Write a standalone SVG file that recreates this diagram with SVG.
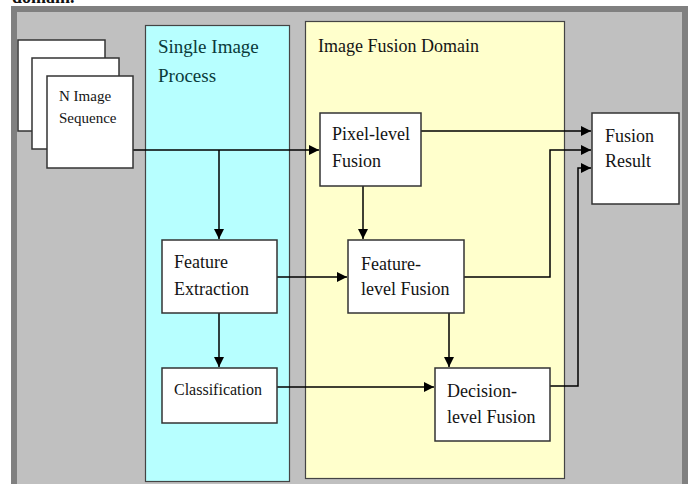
<svg xmlns="http://www.w3.org/2000/svg" width="691" height="484" viewBox="0 0 691 484">
<defs>
<marker id="ah" viewBox="0 0 10 10" refX="10" refY="5" markerWidth="10" markerHeight="10" markerUnits="userSpaceOnUse" orient="auto">
<path d="M0,0 L10,5 L0,10 z" fill="#000"/>
</marker>
<style>
.box{fill:#fff;stroke:#333;stroke-width:1.5}
.t{font-family:"Liberation Serif","Times New Roman",serif;font-size:18px;fill:#141414}
.s{font-size:15px}
.c{fill:none;stroke:#000;stroke-width:1.5}
.a{marker-end:url(#ah)}
</style>
</defs>
<rect x="0" y="0" width="691" height="484" fill="#fff"/>
<text x="12" y="3" font-family="Liberation Serif,serif" font-weight="bold" font-size="18" fill="#111">domain.</text>
<rect x="11" y="6" width="677" height="478" fill="#808080"/>
<rect x="17" y="12" width="665" height="472" fill="#c0c0c0"/>
<g id="single-image-process">
<rect x="145.5" y="25.5" width="144" height="456" fill="#b7ffff" stroke="#444" stroke-width="1.2"/>
<text class="t" x="158" y="53" style="font-size:19px;fill:#0a3a3a">Single Image</text>
<text class="t" x="158" y="82" style="font-size:19px;fill:#0a3a3a">Process</text>
</g>
<g id="image-fusion-domain">
<rect x="305.5" y="21.5" width="259" height="457" fill="#ffffcc" stroke="#444" stroke-width="1.2"/>
<text class="t" x="318" y="52">Image Fusion Domain</text>
</g>
<g id="connectors">
<path class="c a" d="M133,150 H319"/>
<path class="c a" d="M219,150 V239"/>
<path class="c a" d="M219,313 V367"/>
<path class="c a" d="M363,186 V239"/>
<path class="c a" d="M277,277 H347"/>
<path class="c a" d="M449,313 V367"/>
<path class="c a" d="M277,387 H434"/>
<path class="c a" d="M421,131 H591"/>
<path class="c a" d="M464,277 H550 V150 H591"/>
<path class="c a" d="M550,386 H578 V168 H591"/>
</g>
<g id="n-image-sequence">
<rect class="box" x="18" y="40" width="87" height="91"/>
<rect class="box" x="32" y="58" width="87" height="91"/>
<rect class="box" x="47" y="76" width="86" height="92"/>
<text class="t s" x="59" y="101">N Image</text>
<text class="t s" x="59" y="123">Sequence</text>
</g>
<g id="feature-extraction">
<rect class="box" x="162" y="240" width="115" height="73"/>
<text class="t" x="174" y="268">Feature</text>
<text class="t" x="174" y="295">Extraction</text>
</g>
<g id="classification">
<rect class="box" x="162" y="368" width="115" height="55"/>
<text class="t s" x="174" y="395" style="font-size:16px">Classification</text>
</g>
<g id="pixel-level-fusion">
<rect class="box" x="320" y="113" width="101" height="73"/>
<text class="t" x="332" y="140">Pixel-level</text>
<text class="t" x="332" y="167">Fusion</text>
</g>
<g id="feature-level-fusion">
<rect class="box" x="348" y="240" width="116" height="73"/>
<text class="t" x="361" y="270">Feature-</text>
<text class="t" x="361" y="295">level Fusion</text>
</g>
<g id="decision-level-fusion">
<rect class="box" x="435" y="368" width="115" height="73"/>
<text class="t" x="447" y="397">Decision-</text>
<text class="t" x="447" y="423">level Fusion</text>
</g>
<g id="fusion-result">
<rect class="box" x="592" y="113" width="87" height="91"/>
<text class="t" x="605" y="142">Fusion</text>
<text class="t" x="605" y="167">Result</text>
</g>
</svg>
